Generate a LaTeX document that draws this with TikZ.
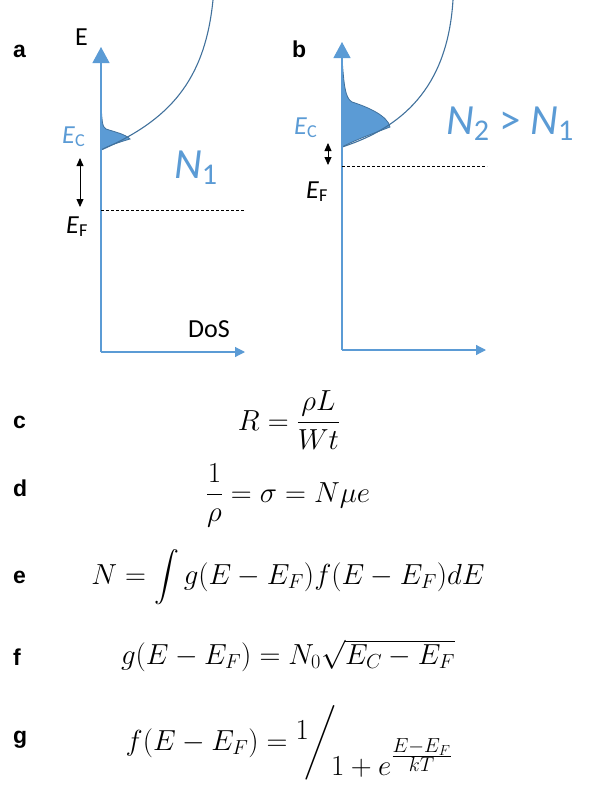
\RequirePackage{fix-cm}
\documentclass[tikz,border=0pt]{standalone}
\usepackage{amsmath}
\usepackage{fontspec}
\setsansfont{Liberation Sans}
\newfontfamily\calfont{Carlito}
\usepackage{tikz}
\usetikzlibrary{arrows.meta}
\definecolor{axblue}{HTML}{5B9BD5}
\definecolor{dosline}{HTML}{41719C}

\begin{document}
\begin{tikzpicture}[x=1pt, y=-1pt,
  lbl/.style={anchor=base west, inner sep=0pt, font=\fontsize{23}{26}\selectfont\sffamily\bfseries},
  cal/.style={anchor=base west, inner sep=0pt, font=\fontsize{26}{30}\selectfont\calfont},
  big/.style={anchor=base west, inner sep=0pt, text=axblue, font=\fontsize{43}{48}\selectfont\calfont},
  eq/.style={anchor=base, inner sep=0pt, font=\fontsize{29}{34}\selectfont},
  ax/.style={draw=axblue, line width=1.2pt},
  upax/.style={ax, -{Triangle[width=17pt,length=16pt]}},
  rtax/.style={ax, -{Triangle[width=10pt,length=10pt]}},
  gap/.style={draw=black, line width=0.8pt, {Triangle[width=7pt,length=8pt]}-{Triangle[width=7pt,length=8pt]}},
  ef/.style={draw=black, line width=0.6pt, dash pattern=on 3pt off 2pt},
  dos/.style={draw=dosline, line width=1.1pt},
  tail/.style={fill=axblue, draw=dosline, line width=0.8pt}]
\useasboundingbox (0,0) rectangle (589,793);

% panel a
\coordinate (a0) at (101,352);
\coordinate (aE) at (101,47);
\coordinate (aD) at (245,352);
\coordinate (aC) at (101,150);
\coordinate (aP) at (130,139);
\fill[tail] (101,104) .. controls (102,120) and (102,127) .. (106,129)
  .. controls (115,132) and (125,134) .. (aP)
  .. controls (120,142) and (110,145) .. (aC) -- cycle;
\draw[dos] (aC) .. controls (170,120) and (205,80) .. (213,0);
\draw[upax] (a0) -- (aE);
\draw[rtax] (a0) -- (aD);
\coordinate (aF) at (101,210);
\coordinate (aFend) at (245,210);
\draw[ef] (aF) -- (aFend);
\coordinate (agapT) at (80,158);
\coordinate (agapB) at (80,207);
\draw[gap] (agapT) -- (agapB);
\node[lbl] (la) at (13,57) {a};
\node[cal] (aElbl) at (75,45) {E};
\node[cal] (aDoS) at (188,337) {DoS};
\node[cal, text=axblue] (aEC) at (62,143) {\textit{E}\textsubscript{C}};
\node[cal] (aEF) at (66,233) {\textit{E}\textsubscript{F}};
\node[big] (aN) at (174,178) {\textit{N}\textsubscript{1}};

% panel b
\coordinate (b0) at (342,350);
\coordinate (bE) at (342,42);
\coordinate (bD) at (486,350);
\coordinate (bC) at (342,147);
\coordinate (bP) at (390,127);
\fill[tail] (342,58) .. controls (344,85) and (345,98) .. (352,102)
  .. controls (368,107) and (388,116) .. (bP)
  .. controls (372,134) and (355,140) .. (bC) -- cycle;
\draw[dos] (bC) .. controls (410,125) and (448,80) .. (453,0);
\draw[upax] (b0) -- (bE);
\draw[rtax] (b0) -- (bD);
\coordinate (bF) at (342,166);
\coordinate (bFend) at (487,166);
\draw[ef] (bF) -- (bFend);
\coordinate (bgapT) at (328,143);
\coordinate (bgapB) at (328,165);
\draw[gap] (bgapT) -- (bgapB);
\node[lbl] (lb) at (292,57) {b};
\node[cal, text=axblue] (bEC) at (294,134) {\textit{E}\textsubscript{C}};
\node[cal] (bEF) at (306,198) {\textit{E}\textsubscript{F}};
\node[big] (bN) at (446,134) {\textit{N}\textsubscript{2} {>} \textit{N}\textsubscript{1}};

% equations
\node[lbl] (lc) at (13,428) {c};
\node[eq] (eqc) at (289,430) {$R=\dfrac{\rho L}{Wt}$};
\node[lbl] (ld) at (13,496) {d};
\node[eq] (eqd) at (288,502) {$\dfrac{1}{\rho}=\sigma=N\mu e$};
\node[lbl] (le) at (13,583) {e};
\node[eq] (eqe) at (288,584) {$N=\displaystyle\int g(E-E_F)f(E-E_F)dE$};
\node[lbl] (lf) at (13,665) {f};
\node[eq] (eqf) at (288,664) {$g(E-E_F)=N_0\sqrt{E_C-E_F}$};
\node[lbl] (lg) at (13,743) {g};
\node[eq] (eqg) at (289,750) {$f(E-E_F)=\raisebox{11pt}{$1$}\!\bigg/\!\raisebox{-25pt}{$1+e^{\frac{\scriptstyle E-E_F}{\scriptstyle kT}}$}$};
\end{tikzpicture}
\end{document}
